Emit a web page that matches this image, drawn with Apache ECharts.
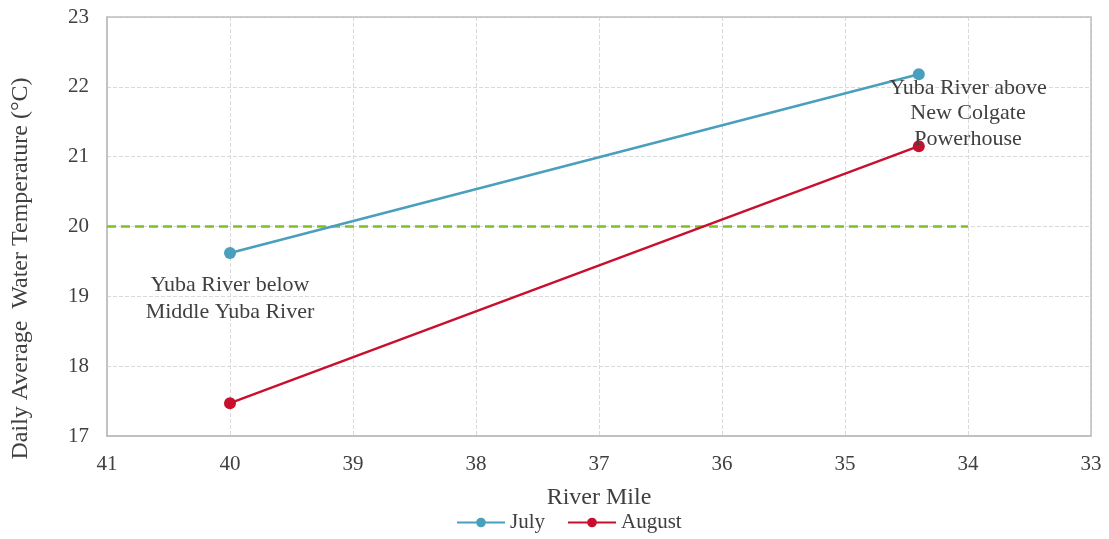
<!DOCTYPE html>
<html>
<head>
<meta charset="utf-8">
<script src="https://cdn.jsdelivr.net/npm/echarts@6/dist/echarts.min.js"></script>
<style>
  html, body { margin: 0; padding: 0; background: #fff; }
  #chart { width: 1109px; height: 539px; }
</style>
</head>
<body>
<div id="chart"></div>
<script>
const riverMiles = [40, 34.4]
const july = [19.62, 22.18]
const august = [17.47, 21.15]
const threshold = 20
const thresholdMiles = [41, 34]

const labelBelow = 'Yuba River below\nMiddle Yuba River'
const labelAbove = 'Yuba River above\nNew Colgate\nPowerhouse'

const textColor = '#404040'
const font = '"Liberation Serif", "Times New Roman", serif'

const chart = echarts.init(document.getElementById('chart'))

const option = {
  animation: false,
  textStyle: { fontFamily: font, color: textColor },
  grid: { left: 107, right: 18, top: 17, bottom: 103 },
  legend: {
    data: ['July', 'August'],
    bottom: 1,
    left: 451,
    itemWidth: 48,
    itemHeight: 12,
    itemGap: 22,
    textStyle: { fontFamily: font, fontSize: 21, color: textColor }
  },
  xAxis: {
    type: 'value',
    inverse: true,
    min: 33,
    max: 41,
    interval: 1,
    name: 'River Mile',
    nameLocation: 'middle',
    nameGap: 50,
    nameTextStyle: { fontFamily: font, fontSize: 24, color: textColor },
    axisLabel: { fontFamily: font, fontSize: 21, color: textColor, margin: 18 },
    axisLine: { show: true, lineStyle: { color: '#bfbfbf', width: 1.5 } },
    axisTick: { show: false },
    splitLine: { show: true, lineStyle: { color: '#d9d9d9', type: 'dashed' } }
  },
  yAxis: {
    type: 'value',
    min: 17,
    max: 23,
    interval: 1,
    name: 'Daily Average  Water Temperature (°C)',
    nameLocation: 'middle',
    nameGap: 74,
    nameTextStyle: { fontFamily: font, fontSize: 24, color: textColor, padding: [0, 84, 0, 0] },
    axisLabel: { fontFamily: font, fontSize: 21, color: textColor, margin: 18 },
    axisLine: { show: true, lineStyle: { color: '#bfbfbf', width: 1.5 } },
    axisTick: { show: false },
    splitLine: { show: true, lineStyle: { color: '#d9d9d9', type: 'dashed' } }
  },
  series: [
    {
      name: 'threshold',
      type: 'line',
      data: thresholdMiles.map(m => [m, threshold]),
      symbol: 'none',
      lineStyle: { color: '#7cc21f', width: 2.5, type: [9, 5] },
      silent: true,
      z: 1
    },
    {
      name: 'July',
      type: 'line',
      data: riverMiles.map((m, i) => [m, july[i]]),
      symbol: 'circle',
      symbolSize: 12,
      lineStyle: { color: '#4a9fbd', width: 2.5 },
      itemStyle: { color: '#4a9fbd' },
      z: 3
    },
    {
      name: 'August',
      type: 'line',
      data: riverMiles.map((m, i) => [m, august[i]]),
      symbol: 'circle',
      symbolSize: 12,
      lineStyle: { color: '#c8102e', width: 2.5 },
      itemStyle: { color: '#c8102e' },
      z: 3,
      markPoint: {
        symbol: 'circle',
        symbolSize: 0,
        silent: true,
        label: {
          show: true,
          fontFamily: font,
          fontSize: 22,
          color: textColor,
          align: 'center',
          verticalAlign: 'middle'
        },
        data: [
          { coord: [40, 18.97], label: { formatter: labelBelow, lineHeight: 27 } },
          { coord: [34, 21.62], label: { formatter: labelAbove, lineHeight: 25.5 } }
        ]
      }
    }
  ]
}

chart.setOption(option)

// plot frame on top and right sides
const tl = chart.convertToPixel({ gridIndex: 0 }, [41, 23])
const br = chart.convertToPixel({ gridIndex: 0 }, [33, 17])
chart.setOption({
  graphic: [{
    type: 'rect',
    shape: { x: tl[0], y: tl[1], width: br[0] - tl[0], height: br[1] - tl[1] },
    style: { fill: 'none', stroke: '#bfbfbf', lineWidth: 1.5 },
    silent: true,
    z: 0
  }]
})
</script>
</body>
</html>
